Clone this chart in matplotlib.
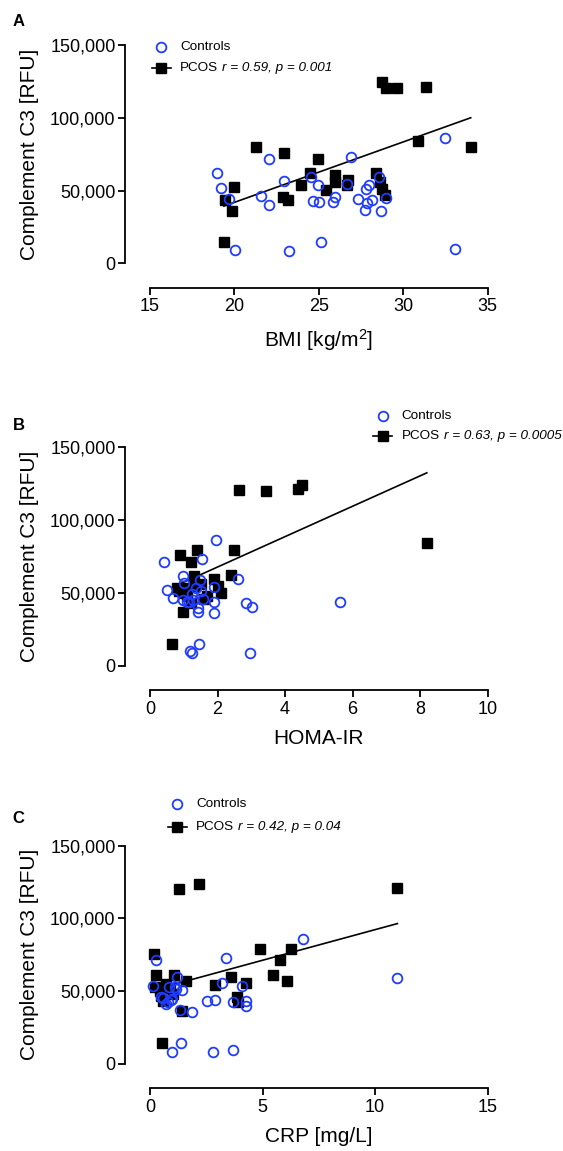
import numpy as np
import matplotlib.pyplot as plt
from matplotlib.lines import Line2D
from matplotlib.ticker import StrMethodFormatter

plt.rcParams['font.family'] = 'Liberation Sans'
plt.rcParams['mathtext.fontset'] = 'custom'
plt.rcParams['mathtext.rm'] = 'Liberation Sans'
plt.rcParams['mathtext.it'] = 'Liberation Sans:italic'

# ---- panel A: BMI ----
bmi_ctrl = [18.94, 19.18, 19.69, 20.03, 21.57, 22.06, 22.06, 22.95, 23.24, 24.53,
            24.66, 24.96, 25.00, 25.14, 25.87, 25.97, 26.68, 26.89, 27.35, 27.74,
            27.78, 27.88, 27.98, 28.18, 28.57, 28.67, 28.96, 32.48, 33.09]
c3_ctrl_a = [61800, 52000, 44200, 8900, 46500, 71400, 40000, 56600, 8700, 59500,
             43000, 53800, 42400, 14400, 42100, 45800, 54300, 73300, 44200, 36600,
             50800, 41200, 53600, 43500, 59100, 36000, 44700, 85900, 9850]
bmi_pcos = [28.77, 28.96, 29.65, 31.37, 30.88, 34.0, 21.25, 22.95, 24.96, 24.47,
            25.95, 25.95, 26.74, 26.70, 23.93, 25.45, 28.41, 28.60, 28.77, 28.90,
            19.99, 19.44, 19.87, 19.38, 22.85, 23.19]
c3_pcos_a = [124300, 120200, 120200, 120900, 84300, 79700, 79700, 75600, 71400, 61800,
             60700, 56100, 57200, 54000, 53800, 50400, 61800, 56100, 50800, 47000,
             52200, 43500, 36200, 14400, 45800, 43500]
fit_a = (4152, -41160)  # slope, intercept

# ---- panel B: HOMA-IR ----
homa_ctrl = [0.42, 0.49, 0.67, 0.99, 1.02, 0.97, 1.09, 1.17, 1.26, 1.19,
             1.23, 1.46, 1.35, 1.48, 1.53, 1.51, 1.58, 1.43, 1.43, 1.89,
             1.91, 1.89, 1.96, 2.62, 2.83, 3.03, 2.96, 5.64, 1.25]
c3_ctrl_b = [71400, 52000, 46300, 61800, 56600, 45100, 44000, 43500, 45100, 10300,
             8900, 14700, 53100, 58900, 73300, 51500, 45600, 39400, 37100, 53800,
             43500, 36000, 86100, 59300, 42800, 40500, 8900, 43500, 49000]
homa_pcos = [2.63, 3.43, 4.39, 4.50, 8.20, 0.89, 1.40, 1.20, 2.48, 2.39,
             1.31, 1.91, 0.79, 2.09, 1.60, 0.97, 0.65, 1.52, 1.00, 1.10,
             1.30, 0.85, 1.20, 1.70, 1.05, 2.00]
c3_pcos_b = [120500, 120200, 121100, 124300, 84000, 76000, 79500, 71000, 79500, 62100,
             61800, 59500, 53600, 50100, 45800, 36600, 14700, 56000, 50000, 47500,
             55000, 51000, 43000, 48000, 53000, 55000]
fit_b = (10440, 46850)

# ---- panel C: CRP ----
crp_ctrl = [0.27, 0.15, 0.59, 0.70, 0.81, 0.93, 0.84, 1.19, 1.16, 1.41,
            1.33, 1.88, 0.96, 1.36, 2.79, 3.67, 2.55, 2.89, 3.19, 3.38,
            3.67, 4.07, 4.27, 4.27, 6.81, 10.99, 0.96, 0.50, 1.10]
c3_ctrl_c = [71200, 53300, 45500, 41300, 42300, 44100, 52800, 59700, 51700, 51000,
             37400, 35600, 8500, 14200, 8500, 9600, 43200, 44100, 55800, 73000,
             42500, 53500, 43600, 39700, 85900, 58800, 44800, 46000, 53000]
crp_pcos = [1.27, 2.18, 10.99, 0.18, 4.89, 6.28, 5.78, 5.48, 6.07, 3.59,
            4.25, 2.89, 1.60, 1.07, 0.27, 0.22, 0.44, 0.59, 1.41, 3.85,
            3.90, 0.55, 0.50, 0.90, 1.00, 0.70]
c3_pcos_c = [120400, 124000, 121000, 75300, 79200, 79200, 71200, 61300, 56700, 59700,
             55800, 54400, 57000, 61300, 60900, 52800, 50500, 43600, 36100, 46000,
             42500, 14200, 47000, 52000, 48000, 55000]
fit_c = (4207, 50240)

BLUE = '#1f3cff'
W, H = 563, 1151
fig = plt.figure(figsize=(W / 100, H / 100), dpi=100)


def fx(x):
    return x / W


def fy(y):
    return 1 - y / H


def panel(top, xc, yc, xp, yp, fit, xlim, xticks, xlabel, letter, letter_y,
          leg_x, leg_y, leg_gap, stats):
    ax = fig.add_axes([fx(150), fy(top + 218.3), 337.6 / W, 218.3 / H])
    xl = np.array([min(xp), max(xp)])
    ax.plot(xl, fit[1] + fit[0] * xl, color='k', lw=1.2, zorder=2)
    ax.plot(xp, yp, 's', ms=6.6, color='k', zorder=3, clip_on=False)
    ax.plot(xc, yc, 'o', ms=7, mfc='none', mec=BLUE, mew=1.3, zorder=4, clip_on=False)

    ax.set_xlim(xlim)
    ax.set_ylim(0, 150000)
    ax.set_xticks(xticks)
    ax.set_yticks([0, 50000, 100000, 150000])
    ax.yaxis.set_major_formatter(StrMethodFormatter('{x:,.0f}'))
    for s in ['top', 'right']:
        ax.spines[s].set_visible(False)
    ax.spines['left'].set_position(('outward', 18))
    ax.spines['bottom'].set_position(('outward', 17.5))
    ax.spines['left'].set_bounds(0, 150000)
    ax.spines['bottom'].set_bounds(*xlim)
    for s in ['left', 'bottom']:
        ax.spines[s].set_linewidth(1.3)
    ax.tick_params(direction='out', length=4.8, width=1.3, labelsize=13)
    ax.tick_params(axis='y', pad=2)
    ax.tick_params(axis='x', pad=3)

    ax.set_ylabel('Complement C3 [RFU]', fontsize=15)
    ax.yaxis.set_label_coords((39 - 150) / 337.6, 0.5)
    ax.set_xlabel(xlabel, fontsize=15)
    ax.xaxis.set_label_coords(0.5, -0.29)

    fig.text(fx(12.6), fy(letter_y), letter, fontsize=12, fontweight='bold', va='baseline')

    # legend, drawn by hand
    fs = 9.7
    fig.add_artist(Line2D([fx(leg_x)], [fy(leg_y)], marker='o', ms=7, mfc='none',
                          mec=BLUE, mew=1.3, transform=fig.transFigure))
    y2 = leg_y + leg_gap
    fig.add_artist(Line2D([fx(leg_x - 9.5), fx(leg_x + 9.5)], [fy(y2), fy(y2)],
                          color='k', lw=1.2, transform=fig.transFigure))
    fig.add_artist(Line2D([fx(leg_x)], [fy(y2)], marker='s', ms=6.6, color='k',
                          transform=fig.transFigure))
    fig.text(fx(leg_x + 19), fy(leg_y), 'Controls', fontsize=fs, va='center')
    t = fig.text(fx(leg_x + 19), fy(y2), 'PCOS', fontsize=fs, va='center')
    fig.add_artist(plt.Annotation(stats, xy=(1, 0.5), xycoords=t, xytext=(2.7, 0),
                                  textcoords='offset points', fontsize=fs,
                                  fontstyle='italic', va='center', ha='left'))
    return ax


panel(45, bmi_ctrl, c3_ctrl_a, bmi_pcos, c3_pcos_a, fit_a, (15, 35), [15, 20, 25, 30, 35],
      'BMI [kg/m$^2$]', 'A', 26, 161, 47.3, 20.4, 'r = 0.59, p = 0.001')
panel(447.3, homa_ctrl, c3_ctrl_b, homa_pcos, c3_pcos_b, fit_b, (0, 10), [0, 2, 4, 6, 8, 10],
      'HOMA-IR', 'B', 430, 382.7, 416, 19.7, 'r = 0.63, p = 0.0005')
panel(845.7, crp_ctrl, c3_ctrl_c, crp_pcos, c3_pcos_c, fit_c, (0, 15), [0, 5, 10, 15],
      'CRP [mg/L]', 'C', 823, 177.3, 804, 22.7, 'r = 0.42, p = 0.04')

fig.savefig('out.png', dpi=100)
